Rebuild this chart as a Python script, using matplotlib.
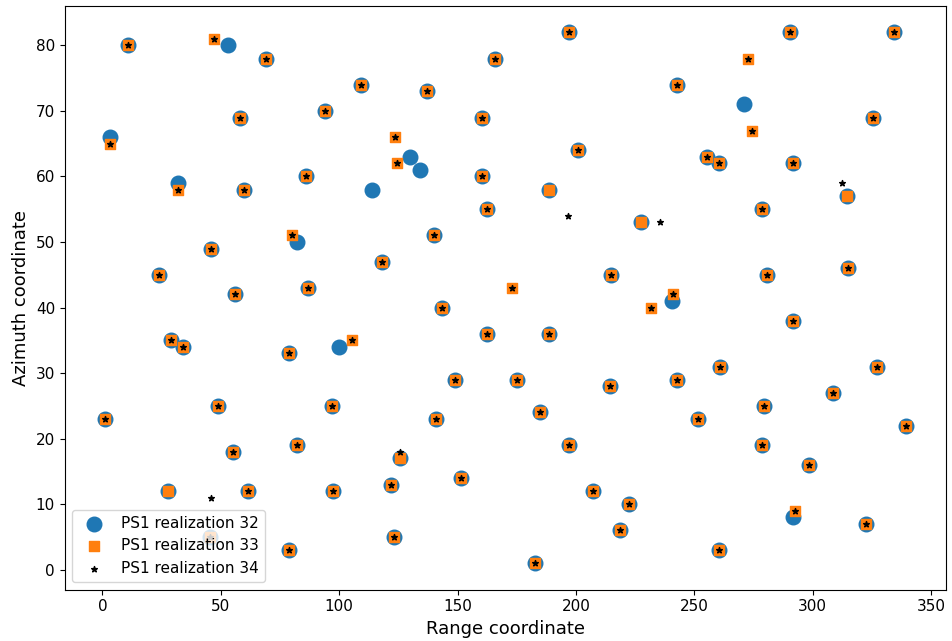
import matplotlib
matplotlib.use("Agg")
import matplotlib.pyplot as plt
import numpy as np

# Points shared by all three realizations
common_x = [11, 69, 109, 94, 58, 60, 86, 137, 166, 197, 160.5, 160.5, 162.5, 201,
            290.5, 334.5, 242.5, 325.5, 255.5, 260.5, 291.5, 278.5, 46, 24, 56, 87,
            29, 34, 79, 49, 97, 1, 140, 118, 215, 143.5, 162.5, 188.5, 149, 175, 214.5,
            141, 185, 315, 280.5, 291.5, 261, 327, 242.5, 308.5, 279.5, 251.5, 339.5,
            55, 82, 61.5, 97.5, 45.5, 79, 197, 122, 151.5, 207, 222.5, 218.5, 123,
            182.5, 278.5, 298.5, 322.5, 260.5]
common_y = [80, 78, 74, 70, 69, 58, 60, 73, 78, 82, 69, 60, 55, 64,
            82, 82, 74, 69, 63, 62, 62, 55, 49, 45, 42, 43,
            35, 34, 33, 25, 25, 23, 51, 47, 45, 40, 36, 36, 29, 29, 28,
            23, 24, 46, 45, 38, 31, 31, 29, 27, 25, 23, 22,
            18, 19, 12, 12, 5, 3, 19, 13, 14, 12, 10, 6, 5,
            1, 19, 16, 7, 3]

# Points specific to each realization
r32_x = [53, 3, 32, 130, 134, 114, 188.5, 271, 314.5, 82, 100, 227.5, 240.5, 27.5, 125.5, 291.5]
r32_y = [80, 66, 59, 63, 61, 58, 58, 71, 57, 50, 34, 53, 41, 12, 17, 8]

r33_x = [47, 3, 32, 123.5, 124.5, 188.5, 272.5, 274.5, 314.5, 80, 105.5, 173, 227.5, 241, 231.5, 27.5, 125.5, 292.5]
r33_y = [81, 65, 58, 66, 62, 58, 78, 67, 57, 51, 35, 43, 53, 42, 40, 12, 17, 9]

r34_x = [47, 3, 32, 123.5, 124.5, 196.5, 272.5, 274.5, 312.5, 80, 105.5, 173, 235.5, 241, 231.5, 46, 125.5, 292.5]
r34_y = [81, 65, 58, 66, 62, 54, 78, 67, 59, 51, 35, 43, 53, 42, 40, 11, 18, 9]

labels = ["PS1 realization 32", "PS1 realization 33", "PS1 realization 34"]

fig = plt.figure(figsize=(9.52, 6.41), dpi=100)
ax = fig.add_axes([0.068, 0.08, 0.926, 0.911])

ax.scatter(r32_x + common_x, r32_y + common_y, s=110, marker="o", color="#1f77b4", label=labels[0])
ax.scatter(r33_x + common_x, r33_y + common_y, s=42, marker="s", color="#ff7f0e", label=labels[1])
ax.scatter(r34_x + common_x, r34_y + common_y, s=18, marker="*", color="black", label=labels[2])

ax.set_xlabel("Range coordinate", fontsize=13)
ax.set_ylabel("Azimuth coordinate", fontsize=13)
ax.tick_params(labelsize=11)
ax.legend(loc="lower left", fontsize=11)

fig.savefig("out.png", dpi=100)
